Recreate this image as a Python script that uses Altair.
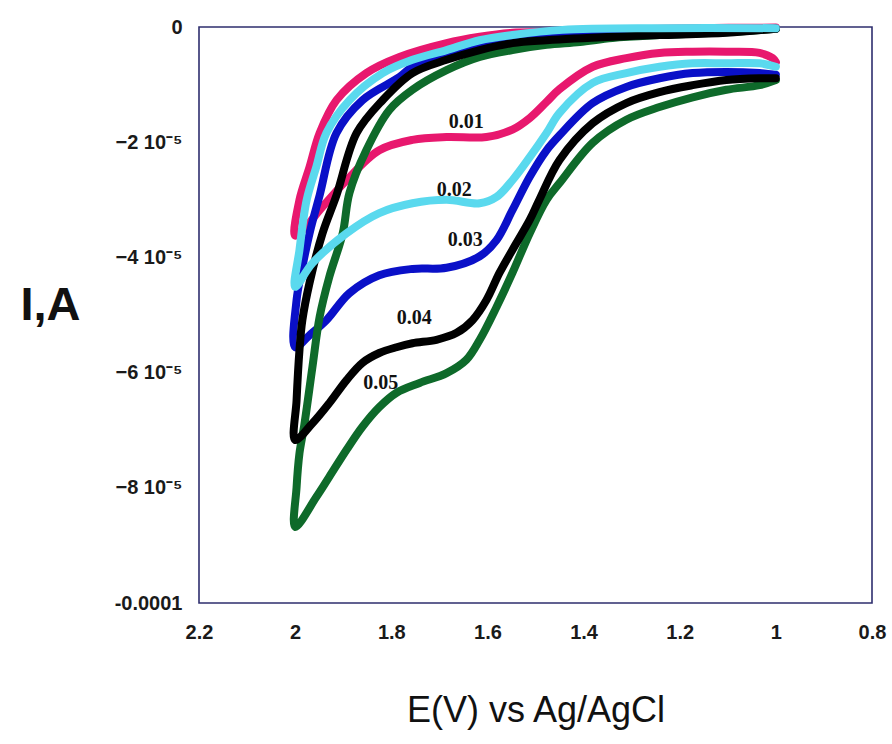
import altair as alt
import pandas as pd

# Cyclic voltammograms at five scan rates (V/s).
# Each loop: forward scan 1.0 V -> 2.0 V (lower branch), then back to 1.0 V.
# Currents are given in units of 1e-5 A.
scan_rates = ["0.01", "0.02", "0.03", "0.04", "0.05"]
line_colors = ["#E8186E", "#5AD9EE", "#0A10C8", "#000000", "#0E6A2A"]

E_001 = [1.0, 1.007, 1.034, 1.103, 1.173, 1.242, 1.311, 1.381, 1.450, 1.477, 1.512, 1.548,
         1.602, 1.685, 1.756, 1.825, 1.893, 1.949, 1.980, 2.0,
         1.991, 1.970, 1.949, 1.914, 1.852, 1.783, 1.685, 1.616, 1.548, 1.477, 1.367, 1.160, 1.0]
I_001 = [-0.61, -0.54, -0.45, -0.43, -0.43, -0.45, -0.54, -0.69, -1.08, -1.30, -1.58, -1.78,
         -1.91, -1.91, -1.96, -2.14, -2.66, -3.18, -3.49, -3.62,
         -3.00, -2.43, -1.84, -1.27, -0.80, -0.52, -0.28, -0.17, -0.10, -0.09, -0.05, -0.02, -0.01]

E_002 = [1.0, 1.034, 1.103, 1.173, 1.242, 1.311, 1.381, 1.450, 1.477, 1.512, 1.548, 1.581,
         1.616, 1.685, 1.756, 1.825, 1.893, 1.964, 2.0,
         1.991, 1.976, 1.956, 1.935, 1.887, 1.818, 1.756, 1.685, 1.616, 1.548, 1.444, 1.242, 1.0]
I_002 = [-0.69, -0.63, -0.63, -0.63, -0.69, -0.80, -0.97, -1.49, -1.84, -2.26, -2.66, -2.95,
         -3.06, -3.00, -3.06, -3.23, -3.58, -4.10, -4.51,
         -3.87, -3.00, -2.43, -1.84, -1.27, -0.80, -0.57, -0.40, -0.23, -0.14, -0.05, -0.02, -0.02]

E_003 = [1.0, 1.034, 1.103, 1.173, 1.242, 1.311, 1.381, 1.450, 1.477, 1.512, 1.548, 1.581,
         1.616, 1.685, 1.756, 1.825, 1.887, 1.935, 1.970, 2.0,
         1.997, 1.985, 1.970, 1.949, 1.914, 1.860, 1.783, 1.756, 1.685, 1.616, 1.548, 1.477,
         1.367, 1.160, 1.0]
I_003 = [-0.83, -0.80, -0.78, -0.80, -0.89, -1.04, -1.32, -1.88, -2.14, -2.60, -3.18, -3.70,
         -3.98, -4.18, -4.20, -4.31, -4.62, -5.09, -5.35, -5.56,
         -4.74, -4.17, -3.58, -2.92, -1.84, -1.27, -0.87, -0.69, -0.45, -0.31, -0.23, -0.17,
         -0.10, -0.05, -0.03]

E_004 = [1.0, 1.034, 1.103, 1.173, 1.242, 1.311, 1.381, 1.450, 1.492, 1.512, 1.548, 1.575,
         1.602, 1.631, 1.664, 1.706, 1.756, 1.789, 1.825, 1.860, 1.893, 1.929, 1.964, 2.0,
         1.997, 1.991, 1.985, 1.970, 1.943, 1.914, 1.872, 1.818, 1.756, 1.685, 1.616, 1.548,
         1.477, 1.340, 1.242, 1.103, 1.0]
I_004 = [-0.89, -0.89, -0.92, -1.01, -1.13, -1.32, -1.67, -2.31, -3.00, -3.35, -3.87, -4.27,
         -4.74, -5.09, -5.31, -5.43, -5.49, -5.56, -5.66, -5.83, -6.13, -6.53, -6.88, -7.17,
         -6.48, -5.61, -5.09, -4.44, -3.58, -2.92, -1.84, -1.27, -0.80, -0.57, -0.40, -0.28,
         -0.23, -0.17, -0.14, -0.10, -0.03]

E_005 = [1.0, 1.034, 1.103, 1.173, 1.242, 1.311, 1.381, 1.450, 1.477, 1.512, 1.548, 1.581,
         1.616, 1.644, 1.685, 1.741, 1.789, 1.825, 1.860, 1.893, 1.929, 1.956, 2.0,
         1.997, 1.991, 1.981, 1.964, 1.949, 1.929, 1.901, 1.887, 1.852, 1.804, 1.756, 1.685,
         1.616, 1.548, 1.477, 1.408, 1.340, 1.242, 1.103, 1.0]
I_005 = [-0.92, -1.01, -1.09, -1.22, -1.39, -1.61, -2.01, -2.71, -3.00, -3.58, -4.27, -4.86,
         -5.43, -5.78, -6.01, -6.18, -6.35, -6.60, -6.94, -7.34, -7.81, -8.16, -8.68,
         -7.99, -7.40, -6.91, -5.90, -5.03, -4.34, -3.58, -2.88, -2.14, -1.44, -1.09, -0.75,
         -0.52, -0.40, -0.31, -0.26, -0.19, -0.14, -0.09, -0.03]

# Scan-rate annotations placed beside each curve's plateau
label_E = [1.644, 1.669, 1.646, 1.752, 1.822]
label_I = [-1.65, -2.83, -3.70, -5.05, -6.18]

curves = {
    "0.01": (E_001, I_001),
    "0.02": (E_002, I_002),
    "0.03": (E_003, I_003),
    "0.04": (E_004, I_004),
    "0.05": (E_005, I_005),
}

x_scale = alt.Scale(domain=[0.8, 2.2], reverse=True, nice=False, zero=False)
y_scale = alt.Scale(domain=[-0.0001, 0], nice=False)

tick_font = "Liberation Sans"

x_axis = alt.Axis(
    values=[2.2, 2.0, 1.8, 1.6, 1.4, 1.2, 1.0, 0.8],
    format="~g", grid=False, ticks=False, domain=False,
    labelFont=tick_font, labelFontSize=20, labelFontWeight="bold", labelColor="#1a1a1a",
    labelPadding=19, labelFlush=False,
    title="E(V) vs Ag/AgCl", titleFont=tick_font, titleFontSize=36, titleFontWeight="normal",
    titleColor="#111111", titleY=107, titleBaseline="middle",
)

y_axis = alt.Axis(
    values=[0, -0.00002, -0.00004, -0.00006, -0.00008, -0.0001],
    labelExpr=("datum.value == 0 ? '0' : (datum.value <= -0.0001 ? '-0.0001' : "
               "format(round(datum.value / 1e-5), 'd') + ' 10\u207b\u2075')"),
    grid=False, ticks=False, domain=False,
    labelFont=tick_font, labelFontSize=20, labelFontWeight="bold", labelColor="#1a1a1a",
    labelPadding=17, labelFlush=False,
    title="I,A", titleFont=tick_font, titleFontSize=47, titleFontWeight="bold",
    titleColor="#111111", titleAngle=0, titleAlign="center", titleBaseline="middle",
    titleX=-149, titleY=278,
)

x_enc = alt.X("E:Q", scale=x_scale, axis=x_axis)
y_enc = alt.Y("I:Q", scale=y_scale, axis=y_axis)

# Series drawn in this stacking order
draw_order = ["0.01", "0.03", "0.05", "0.04", "0.02"]
layers = []
for rate in draw_order:
    E, I = curves[rate]
    df = pd.DataFrame({
        "E": E,
        "I": [v * 1e-5 for v in I],
        "step": list(range(len(E))),
        "rate": rate,
    })
    color = line_colors[scan_rates.index(rate)]
    layers.append(
        alt.Chart(df).mark_line(
            color=color, strokeWidth=8, interpolate="catmull-rom",
            strokeCap="round", strokeJoin="round",
        ).encode(x=x_enc, y=y_enc, order=alt.Order("step:Q"))
    )

labels_df = pd.DataFrame({
    "E": label_E,
    "I": [v * 1e-5 for v in label_I],
    "rate": scan_rates,
})
labels = alt.Chart(labels_df).mark_text(
    font="Liberation Serif", fontSize=20, fontWeight="bold", color="#111111",
    align="center", baseline="middle",
).encode(x=x_enc, y=y_enc, text="rate:N")

chart = alt.layer(*layers, labels).properties(
    width=673,
    height=576,
    autosize=alt.AutoSizeParams(type="none"),
    padding={"left": 199, "top": 27, "right": 20, "bottom": 141},
    background="white",
).configure_view(
    stroke="#2E2E6E", strokeWidth=1.6,
)

chart.save("out.html", embed_options={"renderer": "svg", "actions": False})
